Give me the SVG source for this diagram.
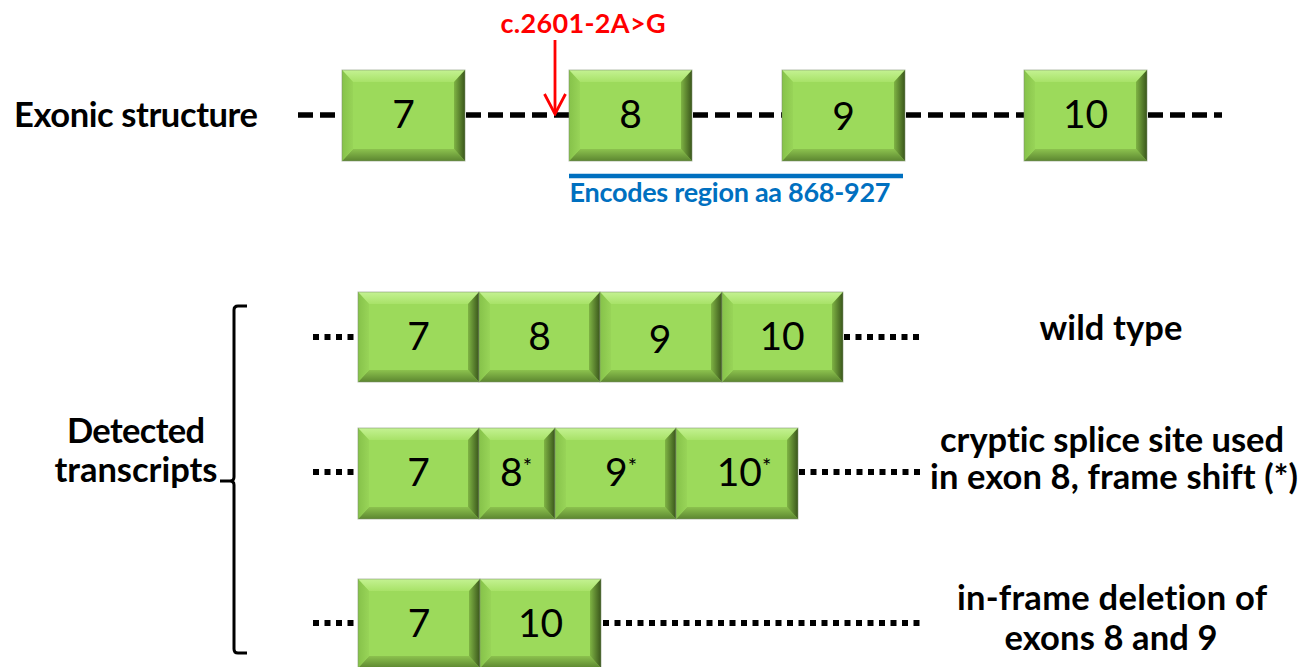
<svg xmlns="http://www.w3.org/2000/svg" width="1301" height="667" viewBox="0 0 1301 667">
  <defs>
    <linearGradient id="gTop" x1="0" y1="0" x2="0" y2="1">
      <stop offset="0" stop-color="#C4F292"/>
      <stop offset="1" stop-color="#A8E268"/>
    </linearGradient>
    <linearGradient id="gLeft" x1="0" y1="0" x2="1" y2="0">
      <stop offset="0" stop-color="#86C24A"/>
      <stop offset="1" stop-color="#98D458"/>
    </linearGradient>
    <linearGradient id="gRight" x1="0" y1="0" x2="1" y2="0">
      <stop offset="0" stop-color="#7FB444"/>
      <stop offset="1" stop-color="#3A561B"/>
    </linearGradient>
    <linearGradient id="gBottom" x1="0" y1="0" x2="0" y2="1">
      <stop offset="0" stop-color="#8CC24E"/>
      <stop offset="1" stop-color="#5C8630"/>
    </linearGradient>
    <marker id="arrowOpen" viewBox="0 0 24 24" refX="22" refY="12" markerWidth="24" markerHeight="24" markerUnits="userSpaceOnUse" orient="auto">
      <path d="M2,1.5 L22,12 L2,22.5" fill="none" stroke="#FF0000" stroke-width="2.8" stroke-linejoin="miter"/>
    </marker>
  </defs>
  <style>
    text { font-variant-ligatures: none; }
    .face { fill: #9CDA5B; }
    .bt { fill: url(#gTop); }
    .bl { fill: url(#gLeft); }
    .br { fill: url(#gRight); }
    .bb { fill: url(#gBottom); }
    .edge { fill: none; stroke: #7E9070; stroke-opacity: 0.55; stroke-width: 1; }
    .num { font-family: Lato, "Liberation Sans", sans-serif; font-size: 39px; fill: #000; text-anchor: middle; }
    .sup { font-size: 22px; }
    .lbl { font-family: Lato, "Liberation Sans", sans-serif; font-weight: bold; font-size: 34.5px; fill: #000; }
    .mid { text-anchor: middle; }
    .intron { stroke: #000; stroke-width: 5.5; stroke-dasharray: 15 7; fill: none; }
    .dots { stroke: #000; stroke-width: 6; stroke-dasharray: 6 5.5; fill: none; }
  </style>

  <!-- text labels -->
  <text class="lbl" x="14" y="127" textLength="244">Exonic structure</text>
  <text x="583" y="33" font-family="Lato, 'Liberation Sans', sans-serif" font-weight="bold" font-size="27" fill="#FF0000" text-anchor="middle" textLength="165">c.2601-2A&gt;G</text>
  <text x="730" y="202" font-family="Lato, 'Liberation Sans', sans-serif" font-weight="bold" font-size="27" fill="#0070C0" text-anchor="middle" textLength="321">Encodes region aa 868-927</text>
  <text class="lbl mid" x="136" y="443" textLength="138">Detected</text>
  <text class="lbl mid" x="136" y="482" textLength="163">transcripts</text>
  <text class="lbl mid" x="1111" y="340" textLength="143">wild type</text>
  <text class="lbl mid" x="1112" y="452" textLength="344">cryptic splice site used</text>
  <text class="lbl mid" x="1114" y="489" textLength="368">in exon 8, frame shift (*)</text>
  <text class="lbl mid" x="1112" y="610" textLength="310">in-frame deletion of</text>
  <text class="lbl mid" x="1111" y="650" textLength="213">exons 8 and 9</text>

  <!-- connectors: introns, dotted transcript ends, mutation arrow, brace, region bar -->
  <g id="connectors">
    <line class="intron" x1="298" y1="115" x2="342" y2="115"/>
    <line class="intron" x1="466" y1="115" x2="569" y2="115"/>
    <line class="intron" x1="693" y1="115" x2="782" y2="115"/>
    <line class="intron" x1="906" y1="115" x2="1024" y2="115"/>
    <line class="intron" x1="1148" y1="115" x2="1222" y2="115"/>

    <line class="dots" x1="313" y1="337" x2="356" y2="337"/>
    <line class="dots" x1="844" y1="337" x2="920" y2="337"/>
    <line class="dots" x1="313" y1="472" x2="356" y2="472"/>
    <line class="dots" x1="799" y1="472" x2="920" y2="472"/>
    <line class="dots" x1="313" y1="623" x2="356" y2="623"/>
    <line class="dots" x1="603" y1="623" x2="920" y2="623"/>

    <line x1="555" y1="40" x2="555" y2="114" stroke="#FF0000" stroke-width="2.8" marker-end="url(#arrowOpen)"/>

    <line x1="569" y1="176" x2="903" y2="176" stroke="#0070C0" stroke-width="4.5"/>

    <path d="M247,306 L238,306 Q234,306 234,310 L234,477 Q234,481 230,481 L220,481 M230,481 Q234,481 234,485 L234,649 Q234,653 238,653 L247,653" fill="none" stroke="#000" stroke-width="3"/>
  </g>

  <!-- exonic structure -->
  <g id="exon7-genomic">
    <rect class="face" x="342" y="70" width="123" height="91"/>
    <polygon class="bt" points="342,70 465,70 454,82 353,82"/>
    <polygon class="bb" points="342,161 465,161 454,149 353,149"/>
    <polygon class="bl" points="342,70 353,82 353,149 342,161"/>
    <polygon class="br" points="465,70 454,82 454,149 465,161"/>
    <rect class="edge" x="342" y="70" width="123" height="91"/>
    <text class="num" x="403.5" y="128">7</text>
  </g>
  <g id="exon8-genomic">
    <rect class="face" x="569" y="70" width="123" height="91"/>
    <polygon class="bt" points="569,70 692,70 681,82 580,82"/>
    <polygon class="bb" points="569,161 692,161 681,149 580,149"/>
    <polygon class="bl" points="569,70 580,82 580,149 569,161"/>
    <polygon class="br" points="692,70 681,82 681,149 692,161"/>
    <rect class="edge" x="569" y="70" width="123" height="91"/>
    <text class="num" x="630.5" y="128">8</text>
  </g>
  <g id="exon9-genomic">
    <rect class="face" x="782" y="70" width="123" height="91"/>
    <polygon class="bt" points="782,70 905,70 894,82 793,82"/>
    <polygon class="bb" points="782,161 905,161 894,149 793,149"/>
    <polygon class="bl" points="782,70 793,82 793,149 782,161"/>
    <polygon class="br" points="905,70 894,82 894,149 905,161"/>
    <rect class="edge" x="782" y="70" width="123" height="91"/>
    <text class="num" x="843.5" y="130">9</text>
  </g>
  <g id="exon10-genomic">
    <rect class="face" x="1024" y="70" width="123" height="91"/>
    <polygon class="bt" points="1024,70 1147,70 1136,82 1035,82"/>
    <polygon class="bb" points="1024,161 1147,161 1136,149 1035,149"/>
    <polygon class="bl" points="1024,70 1035,82 1035,149 1024,161"/>
    <polygon class="br" points="1147,70 1136,82 1136,149 1147,161"/>
    <rect class="edge" x="1024" y="70" width="123" height="91"/>
    <text class="num" x="1085.5" y="128">10</text>
  </g>

  <!-- wild type transcript -->
  <g id="wt-exon7">
    <rect class="face" x="358" y="292" width="121" height="90"/>
    <polygon class="bt" points="358,292 479,292 468,304 369,304"/>
    <polygon class="bb" points="358,382 479,382 468,370 369,370"/>
    <polygon class="bl" points="358,292 369,304 369,370 358,382"/>
    <polygon class="br" points="479,292 468,304 468,370 479,382"/>
    <rect class="edge" x="358" y="292" width="121" height="90"/>
    <text class="num" x="418.5" y="350">7</text>
  </g>
  <g id="wt-exon8">
    <rect class="face" x="479" y="292" width="121" height="90"/>
    <polygon class="bt" points="479,292 600,292 589,304 490,304"/>
    <polygon class="bb" points="479,382 600,382 589,370 490,370"/>
    <polygon class="bl" points="479,292 490,304 490,370 479,382"/>
    <polygon class="br" points="600,292 589,304 589,370 600,382"/>
    <rect class="edge" x="479" y="292" width="121" height="90"/>
    <text class="num" x="539.5" y="350">8</text>
  </g>
  <g id="wt-exon9">
    <rect class="face" x="600" y="292" width="122" height="90"/>
    <polygon class="bt" points="600,292 722,292 711,304 611,304"/>
    <polygon class="bb" points="600,382 722,382 711,370 611,370"/>
    <polygon class="bl" points="600,292 611,304 611,370 600,382"/>
    <polygon class="br" points="722,292 711,304 711,370 722,382"/>
    <rect class="edge" x="600" y="292" width="122" height="90"/>
    <text class="num" x="660" y="353">9</text>
  </g>
  <g id="wt-exon10">
    <rect class="face" x="722" y="292" width="121" height="90"/>
    <polygon class="bt" points="722,292 843,292 832,304 733,304"/>
    <polygon class="bb" points="722,382 843,382 832,370 733,370"/>
    <polygon class="bl" points="722,292 733,304 733,370 722,382"/>
    <polygon class="br" points="843,292 832,304 832,370 843,382"/>
    <rect class="edge" x="722" y="292" width="121" height="90"/>
    <text class="num" x="782" y="350">10</text>
  </g>

  <!-- cryptic splice site transcript -->
  <g id="cs-exon7">
    <rect class="face" x="358" y="428" width="121" height="91"/>
    <polygon class="bt" points="358,428 479,428 468,440 369,440"/>
    <polygon class="bb" points="358,519 479,519 468,507 369,507"/>
    <polygon class="bl" points="358,428 369,440 369,507 358,519"/>
    <polygon class="br" points="479,428 468,440 468,507 479,519"/>
    <rect class="edge" x="358" y="428" width="121" height="91"/>
    <text class="num" x="418.5" y="486">7</text>
  </g>
  <g id="cs-exon8">
    <rect class="face" x="479" y="428" width="76" height="91"/>
    <polygon class="bt" points="479,428 555,428 544,440 490,440"/>
    <polygon class="bb" points="479,519 555,519 544,507 490,507"/>
    <polygon class="bl" points="479,428 490,440 490,507 479,519"/>
    <polygon class="br" points="555,428 544,440 544,507 555,519"/>
    <rect class="edge" x="479" y="428" width="76" height="91"/>
    <text class="num" x="516" y="486">8<tspan class="sup" dy="-12">*</tspan></text>
  </g>
  <g id="cs-exon9">
    <rect class="face" x="555" y="428" width="121" height="91"/>
    <polygon class="bt" points="555,428 676,428 665,440 566,440"/>
    <polygon class="bb" points="555,519 676,519 665,507 566,507"/>
    <polygon class="bl" points="555,428 566,440 566,507 555,519"/>
    <polygon class="br" points="676,428 665,440 665,507 676,519"/>
    <rect class="edge" x="555" y="428" width="121" height="91"/>
    <text class="num" x="621" y="486">9<tspan class="sup" dy="-12">*</tspan></text>
  </g>
  <g id="cs-exon10">
    <rect class="face" x="676" y="428" width="122" height="91"/>
    <polygon class="bt" points="676,428 798,428 787,440 687,440"/>
    <polygon class="bb" points="676,519 798,519 787,507 687,507"/>
    <polygon class="bl" points="676,428 687,440 687,507 676,519"/>
    <polygon class="br" points="798,428 787,440 787,507 798,519"/>
    <rect class="edge" x="676" y="428" width="122" height="91"/>
    <text class="num" x="744" y="486">10<tspan class="sup" dy="-12">*</tspan></text>
  </g>

  <!-- in-frame deletion transcript -->
  <g id="del-exon7">
    <rect class="face" x="358" y="579" width="122" height="89"/>
    <polygon class="bt" points="358,579 480,579 469,591 369,591"/>
    <polygon class="bb" points="358,668 480,668 469,656 369,656"/>
    <polygon class="bl" points="358,579 369,591 369,656 358,668"/>
    <polygon class="br" points="480,579 469,591 469,656 480,668"/>
    <rect class="edge" x="358" y="579" width="122" height="89"/>
    <text class="num" x="419" y="637">7</text>
  </g>
  <g id="del-exon10">
    <rect class="face" x="480" y="579" width="121" height="89"/>
    <polygon class="bt" points="480,579 601,579 590,591 491,591"/>
    <polygon class="bb" points="480,668 601,668 590,656 491,656"/>
    <polygon class="bl" points="480,579 491,591 491,656 480,668"/>
    <polygon class="br" points="601,579 590,591 590,656 601,668"/>
    <rect class="edge" x="480" y="579" width="121" height="89"/>
    <text class="num" x="540.5" y="637">10</text>
  </g>
</svg>
